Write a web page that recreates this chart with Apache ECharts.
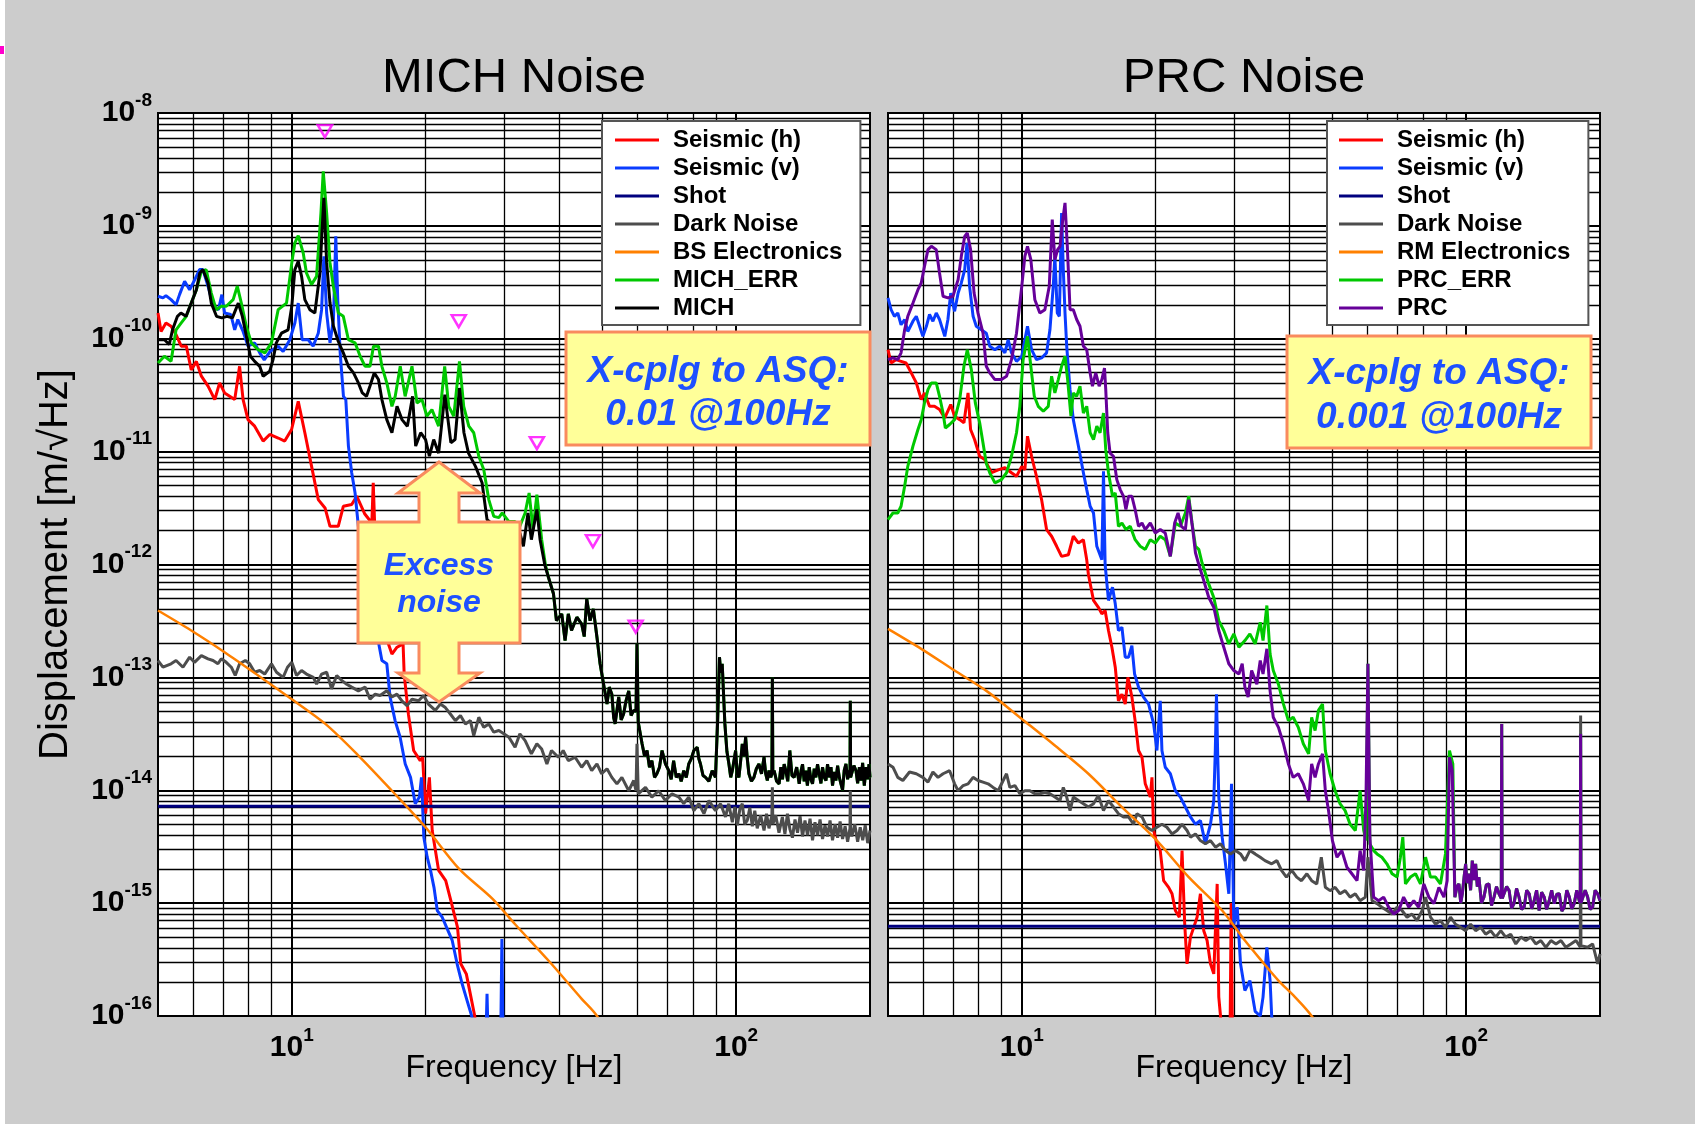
<!DOCTYPE html>
<html><head><meta charset="utf-8">
<script src="https://cdn.jsdelivr.net/npm/echarts@6/dist/echarts.min.js"></script>
<style>html,body{margin:0;padding:0;background:#cccccc;}#c{width:1695px;height:1124px;}</style>
</head><body><div id="c"></div>
<script>
// ---------- DATA (frequency [Hz], displacement [m/sqrt(Hz)]) ----------
const xTicks = [10, 100];
const michSeisH = [[5.0,1.69e-10],[5.08,1.16e-10],[5.21,1.38e-10],[5.35,1.29e-10],[5.49,1.09e-10],[5.64,8.6e-11],[5.79,8.6e-11],[5.94,5.3e-11],[6.10,6.3e-11],[6.26,4.66e-11],[6.48,3.8e-11],[6.71,2.89e-11],[6.88,4.06e-11],[7.06,3.31e-11],[7.44,2.89e-11],[7.63,5.7e-11],[7.77,2.89e-11],[7.97,1.92e-11],[8.25,1.68e-11],[8.62,1.24e-11],[8.92,1.42e-11],[9.32,1.32e-11],[9.64,1.24e-11],[9.99,1.57e-11],[10.34,2.79e-11],[10.7,1.47e-11],[11.08,7.4e-12],[11.47,3.76e-12],[11.88,3.17e-12],[12.19,2.18e-12],[12.72,2.18e-12],[13.06,3.28e-12],[13.64,3.4e-12],[14.0,4.03e-12],[14.6,2.8e-12],[15.14,2.33e-12],[15.25,5.3e-12],[15.36,2.33e-12],[15.9,8e-13],[16.5,1.98e-13],[16.8,1.61e-13],[17.25,1.85e-13],[17.8,1.98e-13],[17.9,1.07e-13],[18.3,4.7e-14],[18.8,2.25e-14],[19.45,1.83e-14],[19.7,1.96e-14],[20.0,6.2e-15],[20.4,1.3e-14],[20.7,4.4e-15],[21.4,1.95e-15],[22.2,1.58e-15],[22.8,1.05e-15],[23.6,6.1e-16],[24.0,2.9e-16],[24.7,2.36e-16],[25.3,1.47e-16],[25.8,1.0e-16],[26.3,5e-17]];
const michSeisV = [[5.0,2.38e-10],[5.13,2.3e-10],[5.21,2.41e-10],[5.35,2.22e-10],[5.49,2.0e-10],[5.59,2.46e-10],[5.74,3.23e-10],[5.89,2.72e-10],[6.05,3.34e-10],[6.2,4.1e-10],[6.31,4.1e-10],[6.48,2.92e-10],[6.66,1.94e-10],[6.84,1.81e-10],[6.96,2.46e-10],[7.06,1.69e-10],[7.29,1.64e-10],[7.44,1.2e-10],[7.56,1.48e-10],[7.77,1.16e-10],[7.97,8.6e-11],[8.25,9.2e-11],[8.47,7.5e-11],[8.67,6.5e-11],[8.93,7.7e-11],[9.32,8.6e-11],[9.56,7.7e-11],[9.9,9.8e-11],[10.16,1.38e-10],[10.34,2.07e-10],[10.55,9.8e-11],[10.89,9.8e-11],[11.17,8.6e-11],[11.47,1.12e-10],[11.67,1.81e-10],[11.81,5.37e-10],[11.98,1.69e-10],[12.19,9.2e-11],[12.41,1.48e-10],[12.56,8.1e-10],[12.69,2.22e-10],[12.85,7.5e-11],[13.07,3.09e-11],[13.23,2.89e-11],[13.41,1.12e-11],[13.64,6.5e-12],[13.88,4.3e-12],[14.12,2.18e-12],[14.9,7.4e-13],[15.67,2.05e-13],[15.95,1.41e-13],[16.36,1.32e-13],[16.64,6.7e-14],[17.08,4.14e-14],[17.53,2.95e-14],[18.0,1.71e-14],[18.5,1.3e-14],[18.96,7.6e-15],[19.37,8.7e-15],[19.58,1.3e-14],[19.82,3.84e-15],[20.17,2.55e-15],[20.52,1.95e-15],[20.89,1.38e-15],[21.25,8.6e-16],[21.8,7.5e-16],[22.3,6.1e-16],[22.96,4.67e-16],[23.55,2.9e-16],[24.17,1.93e-16],[24.8,1.37e-16],[25.4,1.0e-16],[26.0,5e-17],[27.3,5e-17],[27.5,1.57e-16],[27.7,5e-17],[29.5,5e-17],[29.7,4.8e-16],[29.9,5e-17]];
const michShot = [[5,7.2e-15],[200,7.2e-15]];
const michDark = [[5.0,1.41e-13],[5.13,1.23e-13],[5.35,1.32e-13],[5.49,1.41e-13],[5.69,1.23e-13],[5.89,1.51e-13],[6.04,1.36e-13],[6.26,1.56e-13],[6.48,1.46e-13],[6.65,1.41e-13],[6.82,1.32e-13],[6.94,1.46e-13],[7.12,1.36e-13],[7.31,1.23e-13],[7.46,1.04e-13],[7.63,1.32e-13],[7.86,1.41e-13],[8.04,1.32e-13],[8.25,1.11e-13],[8.47,1.15e-13],[8.69,1.07e-13],[9.0,1.32e-13],[9.24,1.11e-13],[9.56,1.0e-13],[9.78,1.23e-13],[10.0,1.36e-13],[10.25,1.04e-13],[10.52,1.15e-13],[10.79,1.07e-13],[11.18,1.0e-13],[11.37,8.7e-14],[11.67,1.07e-13],[11.98,1.11e-13],[12.29,7.9e-14],[12.62,1.04e-13],[12.95,9.4e-14],[13.29,8.7e-14],[13.64,8.2e-14],[14.12,7.6e-14],[14.62,8.2e-14],[15.0,6.4e-14],[15.4,7.1e-14],[15.8,6.9e-14],[16.36,7.6e-14],[16.8,6.7e-14],[17.24,7.1e-14],[17.69,6.2e-14],[18.16,5.6e-14],[18.64,6.4e-14],[19.29,6.2e-14],[19.8,6.9e-14],[20.3,5.8e-14],[21.03,5.1e-14],[21.59,5.8e-14],[22.16,5.4e-14],[22.74,4.74e-14],[23.34,4.14e-14],[23.96,4.59e-14],[24.59,3.87e-14],[25.23,4.14e-14],[25.67,3.05e-14],[26.35,4.43e-14],[27.04,3.61e-14],[27.75,3.87e-14],[28.48,3.27e-14],[29.23,3.38e-14],[30.0,3.16e-14],[30.8,2.95e-14],[31.8,2.4e-14],[32.6,3.16e-14],[33.5,2.75e-14],[34.6,2.1e-14],[35.6,2.58e-14],[36.5,2.32e-14],[37.5,1.71e-14],[38.4,2.25e-14],[39.8,1.96e-14],[40.8,2.25e-14],[41.9,1.83e-14],[43.4,1.96e-14],[44.9,1.6e-14],[46.1,1.83e-14],[47.3,1.49e-14],[48.6,1.71e-14],[49.8,1.4e-14],[51.2,1.55e-14],[52.5,1.3e-14],[53.9,1.14e-14],[55.3,1.3e-14],[57.3,9.9e-15],[58.8,1.22e-14],[59.5,9.9e-15],[59.8,2.58e-14],[60.2,9.3e-15],[62.5,1.06e-14],[64.6,8.7e-15],[66.9,9.9e-15],[69.3,8.1e-15],[71.7,9.3e-15],[74.3,8.7e-15],[76.2,7.6e-15],[78.2,8.7e-15],[80.3,6.6e-15],[82.4,7.6e-15],[84.6,6.2e-15],[86.8,8.1e-15],[89.8,6.6e-15],[92.2,7.6e-15],[94.6,5.8e-15],[96.2,7.6e-15],[98.0,5.2e-15],[99.3,7.1e-15],[100.6,4.9e-15],[101.9,6.8e-15],[103.2,7.6e-15],[104.5,5.0e-15],[105.9,5.4e-15],[107.3,7.0e-15],[108.7,4.8e-15],[110.1,6.6e-15],[111.5,4.6e-15],[113.5,6.0e-15],[115.5,4.4e-15],[117.0,6.2e-15],[118.5,4.6e-15],[120.3,6e-15],[120.6,1.06e-14],[120.9,5e-15],[122.7,6.0e-15],[124.8,4.2e-15],[127.0,5.8e-15],[128.7,4.1e-15],[130.4,6.2e-15],[132.1,4.5e-15],[133.8,3.8e-15],[135.6,5.5e-15],[137.4,4.2e-15],[139.2,5.9e-15],[141.0,3.9e-15],[142.8,5.4e-15],[144.7,4.0e-15],[146.6,5.6e-15],[148.5,3.6e-15],[150.4,5.2e-15],[152.4,4.0e-15],[154.4,5.5e-15],[156.4,3.7e-15],[158.4,4.9e-15],[160.5,3.9e-15],[162.6,5.4e-15],[164.7,3.6e-15],[166.9,5.0e-15],[169.1,3.8e-15],[171.3,5.3e-15],[173.5,3.7e-15],[175.8,4.8e-15],[178.1,3.5e-15],[180.3,4.6e-15],[180.6,9.9e-15],[180.9,4.2e-15],[182.0,3.9e-15],[184.8,5.0e-15],[187.6,3.5e-15],[190.1,4.7e-15],[192.6,3.6e-15],[195.1,4.9e-15],[197.6,3.4e-15],[200,4.4e-15]];
const bsElec = [[5.0,3.91e-13],[5.94,2.6e-13],[7.06,1.67e-13],[8.4,1.04e-13],[10.0,6.4e-14],[11.9,3.87e-14],[14.12,2.03e-14],[16.8,9.9e-15],[20.0,4.7e-15],[23.8,2.01e-15],[28.3,1.09e-15],[31.8,6.5e-16],[37.8,3.1e-16],[44.9,1.42e-16],[48.6,1.0e-16],[55,4e-17]];
const michErrLow = [[5.0,6.1e-11],[5.17,7.0e-11],[5.35,6.31e-11],[5.49,1.2e-10],[5.64,1.38e-10],[5.79,1.58e-10],[5.94,2.07e-10],[6.10,2.72e-10],[6.26,3.96e-10],[6.42,4.09e-10],[6.59,2.54e-10],[6.76,1.81e-10],[6.94,1.94e-10],[7.12,1.94e-10],[7.38,2.22e-10],[7.54,2.92e-10],[7.70,2.07e-10],[7.90,1.29e-10],[8.11,9.2e-11],[8.40,8.0e-11],[8.70,7.5e-11],[9.0,9.2e-11],[9.32,1.81e-10],[9.73,2.07e-10],[10.0,4.7e-10],[10.16,7.06e-10],[10.34,8.2e-10],[10.61,5.75e-10],[10.79,3.83e-10],[11.08,3.02e-10],[11.37,3.57e-10],[11.63,1.3e-9],[11.77,3.04e-9],[11.98,1.3e-9],[12.19,4.7e-10],[12.40,2.92e-10],[12.73,1.69e-10],[13.06,1.58e-10],[13.41,9.8e-11],[13.88,9.2e-11],[14.25,7.0e-11],[14.62,5.7e-11],[15.0,5.7e-11],[15.27,8.6e-11],[15.67,8.6e-11],[15.95,5.7e-11],[16.36,4.06e-11],[16.80,2.52e-11],[17.09,3.09e-11],[17.54,5.7e-11],[17.99,3.09e-11],[18.64,5.7e-11],[19.13,2.7e-11],[19.63,2.89e-11],[20.14,2.06e-11],[20.67,2.36e-11],[21.40,1.68e-11],[22.08,5.7e-11],[22.55,2.52e-11],[23.15,2.06e-11],[23.84,6.31e-11],[24.37,2.52e-11],[25.02,1.68e-11],[25.67,1.47e-11],[26.35,9.1e-12],[27.04,6.9e-12],[27.75,3.76e-12],[28.48,2.67e-12],[29.23,2.6e-12],[29.75,2.86e-12],[30.80,2.4e-12],[31.77,2.4e-12],[32.6,2.18e-12],[33.5,2.86e-12],[34.2,4.3e-12],[34.9,2.04e-12],[35.6,4.16e-12],[36.5,1.66e-12],[37.2,1.0e-12]];
const michLow = [[5.0,9.8e-11],[5.17,9.8e-11],[5.30,8.9e-11],[5.39,1.2e-10],[5.53,1.58e-10],[5.63,1.69e-10],[5.78,1.58e-10],[5.94,2.07e-10],[6.10,2.72e-10],[6.21,3.83e-10],[6.31,4.1e-10],[6.48,3.12e-10],[6.59,2.07e-10],[6.77,1.58e-10],[6.96,1.53e-10],[7.15,1.58e-10],[7.35,1.53e-10],[7.58,2.07e-10],[7.74,1.58e-10],[7.88,1.12e-10],[8.07,7.0e-11],[8.25,6.3e-11],[8.47,5.7e-11],[8.62,4.66e-11],[8.92,5.15e-11],[9.07,6.5e-11],[9.23,9.2e-11],[9.48,1.12e-10],[9.81,1.2e-10],[10.0,1.94e-10],[10.16,4.1e-10],[10.34,4.85e-10],[10.52,3.57e-10],[10.70,2.22e-10],[10.98,1.81e-10],[11.27,1.69e-10],[11.57,3.83e-10],[11.67,7.55e-10],[11.81,1.77e-9],[11.98,4.7e-10],[12.19,2.07e-10],[12.41,1.29e-10],[12.72,9.5e-11],[13.06,7.5e-11],[13.41,5.7e-11],[13.77,4.98e-11],[14.12,4.06e-11],[14.41,3.31e-11],[14.73,3.09e-11],[14.99,3.8e-11],[15.33,4.98e-11],[15.67,4.35e-11],[15.95,2.89e-11],[16.36,1.92e-11],[16.8,1.47e-11],[17.25,2.52e-11],[17.7,1.92e-11],[18.2,1.68e-11],[18.7,3.09e-11],[19.0,1.12e-11],[19.5,1.47e-11],[20.0,1.28e-11],[20.4,9.1e-12],[20.86,1.28e-11],[21.4,9.7e-12],[22.1,3.2e-11],[22.8,1.2e-11],[23.3,1.28e-11],[23.84,3.66e-11],[24.4,1.47e-11],[24.98,9.7e-12],[25.9,7.4e-12],[26.8,5.3e-12],[27.5,2.5e-12],[29.0,2.1e-12],[30.5,1.8e-12],[31.8,1.7e-12],[32.6,1.91e-12],[33.2,1.45e-12],[34.0,2.86e-12],[34.6,1.66e-12],[35.6,3.07e-12],[36.2,1.66e-12],[37.1,9.9e-13]];
const michHigh = [[37.8,7.7e-13],[38.8,5.5e-13],[39.4,3.18e-13],[40.5,3.65e-13],[41.2,2.12e-13],[41.9,3.65e-13],[42.6,2.6e-13],[43.8,3.41e-13],[44.9,2.97e-13],[45.5,2.3e-13],[46.1,4.95e-13],[46.9,3.18e-13],[47.7,4.04e-13],[48.6,2.27e-13],[49.4,1.32e-13],[50.3,8.7e-14],[51.2,5.8e-14],[51.8,8.2e-14],[52.5,7.1e-14],[53.0,4.4e-14],[53.4,3.87e-14],[54.4,6.7e-14],[55.1,4.2e-14],[55.8,4.74e-14],[56.5,6.2e-14],[57.3,7.6e-14],[58.0,4.6e-14],[58.8,5.1e-14],[59.5,5e-14],[59.8,1.98e-13],[60.2,4e-14],[60.5,3.87e-14],[61.4,2.58e-14],[62.2,2.0e-14],[63.0,2.25e-14],[63.8,1.6e-14],[64.6,1.83e-14],[65.5,1.3e-14],[66.3,1.4e-14],[67.2,1.6e-14],[68.1,2.25e-14],[69.3,1.71e-14],[70.5,1.49e-14],[71.4,1.25e-14],[72.3,1.83e-14],[73.3,1.3e-14],[74.3,1.4e-14],[75.2,1.2e-14],[76.2,1.49e-14],[77.2,1.3e-14],[78.2,1.71e-14],[79.2,1.9e-14],[80.3,2.25e-14],[81.7,2.4e-14],[82.4,1.9e-14],[83.1,1.71e-14],[84.2,1.35e-14],[85.3,1.3e-14],[86.8,1.2e-14],[88.3,1.49e-14],[89.8,1.3e-14],[90.8,4.0e-14],[91.7,1.51e-13],[92.3,1.1e-13],[93.0,1.32e-13],[94.3,3.87e-14],[95.3,2.2e-14],[96.3,1.71e-14],[97.2,1.3e-14],[98.0,1.49e-14],[99.0,1.9e-14],[99.7,2.25e-14],[100.5,1.4e-14],[101.4,1.3e-14],[102.3,1.8e-14],[103.2,2.58e-14],[104.1,2.0e-14],[105.0,2.95e-14],[105.9,1.9e-14],[106.8,1.4e-14],[108.2,1.2e-14],[109.6,1.3e-14],[111.0,1.55e-14],[112.5,1.71e-14],[114.0,1.4e-14],[115.5,1.96e-14],[116.5,1.4e-14],[117.5,1.22e-14],[118.5,1.5e-14],[119.6,1.3e-14],[120.3,1.4e-14],[120.6,1.0e-13],[120.9,1.4e-14],[121.7,1.49e-14],[123.3,1.2e-14],[124.9,1.14e-14],[126.0,1.6e-14],[127.1,1.25e-14],[128.2,1.7e-14],[129.3,1.49e-14],[130.6,1.2e-14],[132.0,2.25e-14],[133.5,1.35e-14],[135.0,1.3e-14],[136.8,1.6e-14],[138.6,1.14e-14],[140.0,1.5e-14],[141.0,1.7e-14],[142.2,1.2e-14],[143.4,1.49e-14],[144.6,1.1e-14],[146.0,1.6e-14],[147.2,1.25e-14],[148.5,1.14e-14],[149.8,1.55e-14],[151.1,1.3e-14],[152.4,1.7e-14],[153.7,1.4e-14],[155.1,1.15e-14],[156.4,1.6e-14],[157.8,1.3e-14],[159.2,1.22e-14],[160.5,1.7e-14],[162.0,1.3e-14],[163.4,1.6e-14],[164.7,1.1e-14],[166.2,1.45e-14],[167.6,1.22e-14],[169.1,1.65e-14],[170.6,1.3e-14],[172.0,1.3e-14],[173.5,1.0e-14],[175.0,1.5e-14],[176.6,1.71e-14],[178.1,1.25e-14],[179.6,1.5e-14],[180.3,1.3e-14],[180.6,6.2e-14],[180.9,1.3e-14],[182.2,1.3e-14],[184.0,1.65e-14],[186.0,1.49e-14],[187.6,1.15e-14],[189.3,1.6e-14],[190.9,1.22e-14],[192.5,1.75e-14],[194.2,1.1e-14],[196.0,1.6e-14],[197.6,1.25e-14],[199,1.7e-14],[200,1.3e-14]];
const michMarks = [[11.87,6.9e-9],[23.75,1.43e-10],[35.6,1.19e-11],[47.6,1.61e-12],[59.4,2.82e-13]];

const prcSeisH = [[5.0,8.0e-11],[5.08,6.1e-11],[5.21,6.53e-11],[5.35,6.31e-11],[5.49,6.1e-11],[5.64,4.98e-11],[5.79,4.06e-11],[5.94,2.89e-11],[6.04,3.31e-11],[6.20,2.52e-11],[6.36,2.52e-11],[6.53,2.36e-11],[6.71,1.99e-11],[6.92,2.61e-11],[7.06,2.06e-11],[7.25,1.92e-11],[7.41,1.8e-11],[7.57,3.31e-11],[7.67,1.57e-11],[7.83,1.28e-11],[8.04,9.1e-12],[8.25,8.5e-12],[8.55,6.5e-12],[8.85,6.9e-12],[9.16,7.2e-12],[9.48,6.5e-12],[9.73,6.05e-12],[10.0,7.4e-12],[10.16,6.9e-12],[10.30,1.37e-11],[10.52,9.1e-12],[10.79,6.05e-12],[11.08,3.76e-12],[11.37,2.04e-12],[11.67,1.78e-12],[11.98,1.45e-12],[12.29,1.18e-12],[12.73,1.22e-12],[13.06,1.78e-12],[13.41,1.55e-12],[13.76,1.66e-12],[14.0,1.1e-12],[14.12,8.2e-13],[14.50,4.8e-13],[14.87,4.18e-13],[15.14,3.65e-13],[15.40,3.91e-13],[15.67,2.6e-13],[15.95,1.85e-13],[16.23,1.23e-13],[16.50,6.2e-14],[16.80,7.1e-14],[17.09,5.8e-14],[17.33,1.0e-13],[17.69,6.7e-14],[17.99,4.14e-14],[18.31,2.25e-14],[18.64,1.96e-14],[18.96,1.14e-14],[19.46,8.7e-15],[19.63,1.3e-14],[19.80,4.4e-15],[20.14,3.35e-15],[20.49,2.92e-15],[20.85,1.58e-15],[21.40,1.38e-15],[21.78,1.21e-15],[22.16,8.6e-16],[22.62,7.5e-16],[22.94,2.92e-15],[23.26,6.5e-16],[23.54,2.9e-16],[23.96,5.0e-16],[24.37,6.1e-16],[24.80,7.5e-16],[25.23,1.21e-15],[25.67,5.7e-16],[26.12,4.66e-16],[26.58,2.9e-16],[27.04,2.36e-16],[27.52,1.48e-15],[27.75,1.47e-16],[28.0,1.0e-16],[28.4,5e-17],[29.4,5e-17],[29.59,1.0e-15],[29.8,5e-17]];
const prcSeisV = [[5.0,2.3e-10],[5.08,1.81e-10],[5.17,1.58e-10],[5.26,1.69e-10],[5.35,1.33e-10],[5.45,1.48e-10],[5.54,1.16e-10],[5.69,1.43e-10],[5.79,1.58e-10],[5.89,1.29e-10],[5.99,1.05e-10],[6.10,1.29e-10],[6.20,1.64e-10],[6.31,1.43e-10],[6.42,1.69e-10],[6.53,1.48e-10],[6.71,1.05e-10],[6.82,1.48e-10],[6.92,2.54e-10],[7.06,1.75e-10],[7.19,2.54e-10],[7.31,3.12e-10],[7.44,4.09e-10],[7.53,7.06e-10],[7.63,2.92e-10],[7.77,1.58e-10],[7.90,1.29e-10],[8.11,1.2e-10],[8.32,1.12e-10],[8.47,8.6e-11],[8.70,8.0e-11],[8.92,8.6e-11],[9.16,7.5e-11],[9.32,9.8e-11],[9.48,7.5e-11],[9.73,6.31e-11],[10.0,7.0e-11],[10.16,9.8e-11],[10.30,1.29e-10],[10.52,8.0e-11],[10.79,6.53e-11],[11.08,6.76e-11],[11.37,7.5e-11],[11.57,1.2e-10],[11.77,2.92e-10],[11.87,5.37e-10],[12.02,1.69e-10],[12.15,1.58e-10],[12.29,1.3e-9],[12.40,4.09e-10],[12.51,1.69e-10],[12.62,8.6e-11],[12.84,3.54e-11],[13.06,1.92e-11],[13.41,1.12e-11],[13.76,6.5e-12],[14.0,4.61e-12],[14.25,3.28e-12],[14.50,2.86e-12],[14.75,1.45e-12],[15.14,1.1e-12],[15.27,6.7e-12],[15.40,1.0e-12],[15.67,4.8e-13],[16.0,6.3e-13],[16.23,4.48e-13],[16.50,2.6e-13],[16.80,2.78e-13],[17.09,1.51e-13],[17.39,1.51e-13],[17.69,1.91e-13],[17.94,1.07e-13],[18.31,8.2e-14],[18.79,6.7e-14],[19.29,5.8e-14],[19.80,3.87e-14],[20.14,2.25e-14],[20.49,6.2e-14],[20.67,2.25e-14],[21.03,1.6e-14],[21.59,1.4e-14],[22.16,9.9e-15],[22.74,8.7e-15],[23.34,7.1e-15],[23.96,5.8e-15],[24.59,5.0e-15],[25.23,5.4e-15],[25.89,3.35e-15],[26.58,5.0e-15],[27.04,8.1e-15],[27.25,2.2e-14],[27.42,7.1e-14],[27.6,2.0e-14],[27.75,8.7e-15],[28.24,3.84e-15],[28.73,2.23e-15],[29.23,1.21e-15],[29.64,1.14e-14],[30.0,6.5e-16],[30.53,9.2e-16],[31.06,2.9e-16],[31.77,1.68e-16],[32.6,2.06e-16],[33.5,1.1e-16],[34.4,1.0e-16],[34.9,1.47e-16],[35.6,4.06e-16],[36.2,2.06e-16],[36.5,1.0e-16],[37.5,5e-17]];
const prcShot = [[5,6.25e-16],[200,6.25e-16]];
const prcDark = [[5.0,1.71e-14],[5.13,1.6e-14],[5.26,1.3e-14],[5.40,1.22e-14],[5.59,1.45e-14],[5.79,1.4e-14],[5.99,1.3e-14],[6.15,1.18e-14],[6.31,1.45e-14],[6.48,1.3e-14],[6.65,1.4e-14],[6.88,1.49e-14],[7.06,1.14e-14],[7.19,9.9e-15],[7.38,1.1e-14],[7.57,1.14e-14],[7.77,1.3e-14],[7.97,1.22e-14],[8.18,1.18e-14],[8.40,1.14e-14],[8.62,1.06e-14],[8.85,9.9e-15],[9.08,1.22e-14],[9.24,1.4e-14],[9.40,1.06e-14],[9.65,1.1e-14],[9.90,9.3e-15],[10.16,9.9e-15],[10.43,9.9e-15],[10.70,9.3e-15],[10.98,9.3e-15],[11.27,9.6e-15],[11.57,9.3e-15],[11.87,8.7e-15],[12.19,8.1e-15],[12.40,1.06e-14],[12.62,8.7e-15],[12.84,6.6e-15],[13.06,8.7e-15],[13.41,8.1e-15],[13.76,7.6e-15],[14.12,7.1e-15],[14.50,7.6e-15],[14.87,9.0e-15],[15.27,6.6e-15],[15.67,8.1e-15],[16.08,7.1e-15],[16.50,6.2e-15],[16.94,5.8e-15],[17.39,5.8e-15],[17.84,5.0e-15],[18.16,6.2e-15],[18.64,5.8e-15],[19.13,4.7e-15],[19.63,4.4e-15],[20.14,4.7e-15],[20.67,5.0e-15],[21.21,4.7e-15],[21.78,4.1e-15],[22.35,4.4e-15],[22.94,5.0e-15],[23.54,4.4e-15],[23.96,3.84e-15],[24.59,4.1e-15],[25.23,3.58e-15],[25.89,3.35e-15],[26.58,3.58e-15],[27.28,3.13e-15],[28.0,3.35e-15],[28.73,2.92e-15],[29.49,2.73e-15],[30.27,2.92e-15],[31.06,2.73e-15],[31.77,2.38e-15],[32.6,2.92e-15],[33.5,2.73e-15],[34.4,2.55e-15],[35.25,2.38e-15],[36.5,2.23e-15],[37.5,2.38e-15],[38.4,1.95e-15],[39.4,1.7e-15],[40.5,1.95e-15],[41.55,1.7e-15],[42.6,1.58e-15],[43.8,1.82e-15],[44.9,1.58e-15],[46.1,1.48e-15],[47.2,2.55e-15],[48.2,1.38e-15],[49.4,1.29e-15],[50.7,1.38e-15],[52.0,1.21e-15],[53.4,1.29e-15],[54.8,1.13e-15],[56.3,1.21e-15],[57.7,1.05e-15],[59.3,1.13e-15],[60.1,2.55e-15],[61.4,1.05e-15],[63.0,9.9e-16],[64.6,9.2e-16],[66.3,8.6e-16],[68.1,8.0e-16],[69.9,9.2e-16],[71.7,8.6e-16],[73.6,7.5e-16],[75.5,8.0e-16],[77.5,7.0e-16],[79.6,8.6e-16],[81.0,1.13e-15],[83.1,7.5e-16],[85.3,6.5e-16],[87.5,7.0e-16],[89.8,6.1e-16],[92.2,7.5e-16],[94.6,6.5e-16],[97.1,6.1e-16],[99.7,5.7e-16],[102.3,6.5e-16],[105.0,5.7e-16],[107.8,6.1e-16],[110.6,5.3e-16],[113.5,5.7e-16],[116.5,5.0e-16],[119.6,5.7e-16],[122.7,5.0e-16],[125.9,5.3e-16],[129.3,4.35e-16],[132.7,5.0e-16],[136.2,4.66e-16],[139.8,5.0e-16],[143.4,4.35e-16],[147.2,4.66e-16],[151.1,4.06e-16],[155.1,4.66e-16],[159.2,4.35e-16],[163.4,4.66e-16],[167.6,4.06e-16],[172.0,4.35e-16],[176.6,4.66e-16],[180.6,4.06e-16],[180.9,4.59e-14],[181.2,4.2e-16],[182.8,4.35e-16],[187.6,4.06e-16],[192.5,4.35e-16],[197.6,2.9e-16],[200,3.55e-16]];
const rmElec = [[5.0,2.69e-13],[5.94,1.79e-13],[7.06,1.15e-13],[8.40,7.4e-14],[10.0,4.28e-14],[11.87,2.49e-14],[14.12,1.4e-14],[16.80,7.1e-15],[19.97,3.71e-15],[23.75,1.7e-15],[28.24,8.6e-16],[31.77,4.66e-16],[34.6,3.1e-16],[37.8,2.06e-16],[41.2,1.47e-16],[44.9,1.0e-16],[50,5e-17]];
const prcErrLow = [[5.0,2.5e-12],[5.13,2.86e-12],[5.26,2.86e-12],[5.35,3.28e-12],[5.45,4.93e-12],[5.54,7.4e-12],[5.69,1.12e-11],[5.84,1.57e-11],[5.94,1.92e-11],[6.04,2.7e-11],[6.15,3.54e-11],[6.26,4.06e-11],[6.42,4.06e-11],[6.53,3.09e-11],[6.65,2.2e-11],[6.73,1.62e-11],[6.88,1.74e-11],[7.06,1.92e-11],[7.25,2.89e-11],[7.41,5.7e-11],[7.54,8.0e-11],[7.70,5.33e-11],[7.86,2.7e-11],[8.04,1.8e-11],[8.18,1.19e-11],[8.32,7.9e-12],[8.47,6.5e-12],[8.70,5.28e-12],[9.0,5.65e-12],[9.24,6.5e-12],[9.48,9.1e-12],[9.73,1.47e-11],[9.90,2.52e-11],[10.07,6.53e-11],[10.30,1.05e-10],[10.48,5.7e-11],[10.67,3.09e-11],[10.89,2.52e-11],[11.18,2.28e-11],[11.47,2.52e-11],[11.67,4.65e-11],[11.87,3.31e-11],[12.08,4.35e-11],[12.29,5.7e-11],[12.51,7.0e-11],[12.68,4.35e-11],[12.90,2.06e-11],[13.06,3.31e-11],[13.29,3.09e-11],[13.52,3.8e-11],[13.76,2.2e-11],[14.0,2.52e-11],[14.25,1.47e-11],[14.50,1.28e-11],[14.75,1.68e-11],[15.0,1.47e-11],[15.27,2.2e-11],[15.45,1.04e-11],[15.67,6.5e-12],[16.0,4.02e-12],[16.23,4.3e-12],[16.50,2.18e-12],[16.80,2.33e-12],[17.15,2.04e-12],[17.54,2.18e-12],[17.99,1.66e-12],[18.47,1.45e-12],[18.96,1.36e-12],[19.46,1.66e-12],[19.97,1.55e-12],[20.49,1.78e-12],[21.03,1.66e-12],[21.59,1.18e-12],[22.16,2.33e-12],[22.74,2.18e-12],[23.34,2.86e-12],[23.75,4.02e-12],[24.16,2.33e-12],[24.59,1.45e-12],[25.02,1.36e-12],[25.45,1.03e-12],[26.35,6.7e-13],[27.04,5.1e-13],[27.75,3.18e-13],[28.48,2.6e-13],[29.23,1.98e-13],[30.0,2.43e-13],[30.80,1.85e-13],[31.77,2.12e-13],[32.6,2.43e-13],[33.5,1.98e-13],[34.4,3.08e-13],[34.9,2.12e-13],[35.6,4.33e-13],[36.2,1.61e-13],[36.8,1.15e-13],[37.8,8.7e-14],[38.8,5.8e-14],[39.8,4.14e-14],[40.8,4.43e-14],[41.9,3.61e-14],[43.0,2.58e-14],[44.2,2.1e-14],[44.9,4.43e-14],[45.7,3.38e-14],[46.5,5.1e-14],[47.5,5.8e-14],[48.2,2.25e-14],[49.4,1.4e-14],[50.7,9.9e-15],[52.0,7.6e-15],[53.4,6.6e-15],[54.8,5.0e-15],[56.3,4.4e-15],[57.7,9.9e-15],[58.8,4.4e-15],[59.5,3.58e-15],[60.1,1.32e-13],[60.7,3.35e-15],[61.9,2.92e-15],[63.0,2.73e-15],[64.6,2.55e-15],[66.3,2.23e-15],[68.1,1.82e-15],[69.9,1.7e-15],[71.1,2.55e-15],[72.0,3.84e-15],[73.0,1.48e-15],[74.9,1.7e-15],[76.9,1.82e-15],[78.9,1.48e-15],[81.0,2.55e-15],[83.1,1.7e-15],[85.3,1.7e-15],[87.5,1.48e-15],[89.8,2.73e-15],[91.7,2.25e-14],[93.3,1.71e-14]];
const prcLow = [[5.0,6.53e-11],[5.13,6.76e-11],[5.26,6.53e-11],[5.35,7.5e-11],[5.45,1.2e-10],[5.54,1.58e-10],[5.69,2.07e-10],[5.84,2.72e-10],[5.94,3.12e-10],[6.04,4.38e-10],[6.15,6.16e-10],[6.26,6.59e-10],[6.42,6.16e-10],[6.53,3.83e-10],[6.65,2.38e-10],[6.82,2.3e-10],[7.0,2.38e-10],[7.19,3.34e-10],[7.31,5.37e-10],[7.44,8.08e-10],[7.54,8.65e-10],[7.67,6.16e-10],[7.81,2.54e-10],[7.97,1.69e-10],[8.18,1.12e-10],[8.32,5.7e-11],[8.47,4.98e-11],[8.70,4.35e-11],[9.0,4.35e-11],[9.24,4.65e-11],[9.48,6.53e-11],[9.73,1.12e-10],[10.0,2.92e-10],[10.16,5.37e-10],[10.30,6.59e-10],[10.48,5.02e-10],[10.70,2.22e-10],[10.98,1.69e-10],[11.27,1.81e-10],[11.53,2.92e-10],[11.71,1.135e-9],[11.87,5.02e-10],[12.04,6.16e-10],[12.19,6.59e-10],[12.34,1.06e-9],[12.51,1.6e-9],[12.66,6.59e-10],[12.84,1.81e-10],[13.06,1.81e-10],[13.29,1.48e-10],[13.52,1.29e-10],[13.76,8.6e-11],[14.0,8.0e-11],[14.25,4.98e-11],[14.42,3.8e-11],[14.67,4.98e-11],[14.93,3.8e-11],[15.14,4.35e-11],[15.35,5.5e-11],[15.45,3.54e-11],[15.61,1.47e-11],[15.80,9.7e-12],[16.08,9.1e-12],[16.36,5.65e-12],[16.65,4.61e-12],[16.94,4.02e-12],[17.15,3.07e-12],[17.39,4.02e-12],[17.69,4.02e-12],[17.99,3.07e-12],[18.31,2.18e-12],[18.64,2.33e-12],[18.96,2.04e-12],[19.46,2.33e-12],[19.97,1.9e-12],[20.49,2.04e-12],[21.03,1.9e-12],[21.59,1.18e-12],[22.08,2.33e-12],[22.47,2.86e-12],[22.86,2.18e-12],[23.34,2.04e-12],[23.75,3.76e-12],[24.25,2.04e-12],[24.59,1.27e-12],[25.02,1.0e-12],[25.67,7.2e-13],[26.35,5.1e-13],[27.04,4.18e-13],[27.75,2.6e-13],[28.48,1.85e-13],[29.23,1.32e-13],[30.0,1.15e-13],[30.80,1.07e-13],[31.33,1.32e-13],[31.77,8.2e-14],[32.3,6.7e-14],[32.9,1.15e-13],[33.8,8.7e-14],[34.4,1.41e-13],[34.9,1.07e-13],[35.6,1.79e-13],[36.2,7.6e-14],[36.8,4.43e-14],[37.8,3.61e-14],[38.8,2.58e-14],[39.8,1.71e-14],[40.8,1.3e-14],[41.9,1.4e-14],[43.0,1.14e-14],[44.2,8.1e-15],[44.9,1.71e-14],[45.7,1.3e-14],[46.5,1.71e-14],[47.5,2.1e-14],[48.2,9.9e-15],[49.0,6.6e-15],[50.0,3.58e-15],[51.2,2.55e-15],[52.5,2.92e-15],[53.9,2.08e-15],[55.3,1.82e-15],[56.8,1.58e-15],[57.7,2.92e-15],[58.8,1.95e-15],[59.5,8.7e-15],[60.1,1.32e-13],[60.7,3.84e-15],[61.9,1.13e-15],[63.5,1.05e-15],[65.2,1.13e-15],[66.9,9.2e-16],[68.7,8.0e-16],[70.5,8.6e-16],[72.3,1.13e-15],[74.3,9.2e-16],[76.2,1.05e-15],[78.2,9.2e-16],[80.3,1.48e-15],[82.4,1.13e-15],[84.6,9.9e-16],[86.8,1.38e-15],[89.1,1.13e-15],[90.6,1.58e-15],[91.7,1.96e-14],[93.0,1.49e-14]];
const prcHigh = [[94.3,1.13e-15],[95.3,1.4e-15],[96.3,1.48e-15],[97.2,1.0e-15],[98.0,1.21e-15],[98.9,1.7e-15],[99.7,2.23e-15],[100.5,1.5e-15],[101.4,1.82e-15],[102.3,1.3e-15],[103.2,2.38e-15],[104.1,1.6e-15],[105.0,2.23e-15],[105.9,1.4e-15],[106.8,1.7e-15],[108.2,1.0e-15],[109.6,1.13e-15],[111.0,1.45e-15],[112.5,1.48e-15],[114.0,9.5e-16],[115.5,1.13e-15],[117.0,1.4e-15],[118.5,1.21e-15],[119.9,1.1e-15],[120.2,3.87e-14],[120.5,1.1e-15],[121.7,1.13e-15],[123.3,1.4e-15],[124.9,1.29e-15],[126.5,9.0e-16],[128.1,9.9e-16],[129.8,1.35e-15],[131.5,1.13e-15],[133.2,8.8e-16],[135.0,9.2e-16],[136.8,1.3e-15],[138.6,1.21e-15],[140.4,8.9e-16],[142.2,1.05e-15],[144.0,1.3e-15],[145.9,8.6e-16],[147.8,1.25e-15],[149.8,1.13e-15],[151.7,8.8e-16],[153.7,1.05e-15],[155.7,1.3e-15],[157.8,9.9e-16],[159.9,1.2e-15],[162.0,1.21e-15],[164.1,8.5e-16],[166.2,9.2e-16],[168.4,1.3e-15],[170.6,1.13e-15],[172.8,8.9e-16],[175.0,9.9e-16],[177.3,1.3e-15],[179.6,1.05e-15],[180.6,1.0e-15],[180.9,3.16e-14],[181.2,1.0e-15],[182.8,9.9e-16],[185.2,1.3e-15],[187.6,1.13e-15],[190.0,8.8e-16],[192.5,9.2e-16],[195.0,1.3e-15],[197.6,1.21e-15],[200,1.05e-15]];

const leftNames = ['Seismic (h)','Seismic (v)','Shot','Dark Noise','BS Electronics','MICH_ERR','MICH'];
const rightNames = ['Seismic (h)','Seismic (v)','Shot','Dark Noise','RM Electronics','PRC_ERR','PRC'];

// ---------- CHART ----------
const FONT = "'Liberation Sans', Arial, sans-serif";
const YS = 1e16; // axis works in units of 1e-16 m/sqrt(Hz)
const C = {red:'#ff0000', blue:'#0a3cff', navy:'#00007f', grey:'#4d4d4d', orange:'#ff8000', green:'#00c800', black:'#000000', purple:'#660099'};
function sc(a){ return a.map(p => [p[0], p[1]*YS]); }
function ln(name, arr, color, gi, w, extra){
  return Object.assign({type:'line', name:name, xAxisIndex:gi, yAxisIndex:gi, data:sc(arr),
    symbol:'none', showSymbol:false, silent:true, clip:true, animation:false,
    lineStyle:{color:color, width:w}, itemStyle:{color:color}}, extra||{});
}
const RICH = {
  b:{fontFamily:FONT, fontWeight:'bold', fontSize:30, lineHeight:44, color:'#000'},
  s:{fontFamily:FONT, fontWeight:'bold', fontSize:19, lineHeight:19, verticalAlign:'top', color:'#000'}
};
function isPow(e){ return Math.abs(e - Math.round(e)) < 1e-6; }
function xAx(gi){
  return {type:'log', logBase:10, gridIndex:gi, min:5, max:200,
    axisLine:{show:true, lineStyle:{color:'#000', width:2}}, axisTick:{show:false},
    minorTick:{show:false, splitNumber:9},
    splitLine:{show:true, lineStyle:{color:'#000', width:2}},
    minorSplitLine:{show:true, lineStyle:{color:'#000', width:1.3}},
    axisLabel:{margin:10, rich:RICH, formatter:function(v){ const e=Math.log10(v); return (isPow(e) && xTicks.indexOf(Math.round(Math.pow(10,Math.round(e))))>=0) ? '{b|10}{s|'+Math.round(e)+'}' : ''; }},
    name:'Frequency [Hz]', nameLocation:'middle', nameGap:36, nameMoveOverlap:false,
    nameTextStyle:{fontFamily:FONT, fontSize:32, color:'#000'}};
}
function yAx(gi, labels){
  const o = {type:'log', logBase:10, gridIndex:gi, min:1e-16*YS, max:1e-8*YS,
    axisLine:{show:true, lineStyle:{color:'#000', width:2}}, axisTick:{show:false},
    minorTick:{show:false, splitNumber:9},
    splitLine:{show:true, lineStyle:{color:'#000', width:2}},
    minorSplitLine:{show:true, lineStyle:{color:'#000', width:1.3}},
    axisLabel:{show:labels, margin:6, rich:RICH, formatter:function(v){ const e=Math.log10(v/YS); return isPow(e) ? '{b|10}{s|'+Math.round(e)+'}' : ''; }}};
  if (labels){ o.name='Displacement [m/\u221AHz]'; o.nameLocation='middle'; o.nameGap=82; o.nameRotate=90;
    o.nameTextStyle={fontFamily:FONT, fontSize:40, color:'#000'}; }
  return o;
}
function legend(left, names, padL){
  return {show:true, orient:'vertical', left:left, top:121, selectedMode:false, data:names,
    icon:'rect', itemWidth:44, itemHeight:3, itemGap:4, padding:[7,18,5,padL],
    backgroundColor:'#ffffff', borderColor:'#555555', borderWidth:2,
    textStyle:{fontFamily:FONT, fontWeight:'bold', fontSize:24, lineHeight:24, color:'#000', padding:[0,0,0,9]}};
}
const BOXFILL = '#ffff99', BOXLINE = '#f98b5e', BLUE = '#1e50ff';
const arrowPts = [[439,462],[480,493],[459,493],[459,522],[520,522],[520,643],[459,643],[459,673],[480,673],[439,702],[398,673],[419,673],[419,643],[358,643],[358,522],[419,522],[419,493],[398,493]];

const option = {
  backgroundColor:'#cccccc', animation:false,
  title:[
    {text:'MICH Noise', left:514, top:54, textAlign:'center', padding:0, textStyle:{fontFamily:FONT, fontSize:49, fontWeight:'normal', color:'#000'}},
    {text:'PRC Noise', left:1244, top:54, textAlign:'center', padding:0, textStyle:{fontFamily:FONT, fontSize:49, fontWeight:'normal', color:'#000'}}
  ],
  grid:[
    {left:158, top:113, width:712, height:903, show:true, backgroundColor:'#ffffff', borderColor:'#000', borderWidth:2},
    {left:888, top:113, width:712, height:903, show:true, backgroundColor:'#ffffff', borderColor:'#000', borderWidth:2}
  ],
  xAxis:[xAx(0), xAx(1)],
  yAxis:[yAx(0,true), yAx(1,false)],
  legend:[legend(602, leftNames, 13), legend(1327, rightNames, 12)],
  series:[
    ln('Seismic (h)', michSeisH, C.red, 0, 3),
    ln('Seismic (v)', michSeisV, C.blue, 0, 3),
    ln('Shot', michShot, C.navy, 0, 3),
    ln('Dark Noise', michDark, C.grey, 0, 3),
    ln('BS Electronics', bsElec, C.orange, 0, 2.5, {smooth:0.3}),
    ln('MICH_ERR', michErrLow.concat(michHigh), C.green, 0, 3),
    ln('MICH', michLow.concat(michHigh), C.black, 0, 3),
    {type:'scatter', name:'harmonics', xAxisIndex:0, yAxisIndex:0, data:sc(michMarks), silent:true,
     symbol:'triangle', symbolRotate:180, symbolSize:[14,12],
     itemStyle:{color:'rgba(255,255,255,0)', borderColor:'#ff00ff', borderWidth:2.5}},
    ln('Seismic (h)', prcSeisH, C.red, 1, 3),
    ln('Seismic (v)', prcSeisV, C.blue, 1, 3),
    ln('Shot', prcShot, C.navy, 1, 3),
    ln('Dark Noise', prcDark, C.grey, 1, 3),
    ln('RM Electronics', rmElec, C.orange, 1, 2.5, {smooth:0.3}),
    ln('PRC_ERR', prcErrLow.concat(prcHigh), C.green, 1, 3),
    ln('PRC', prcLow.concat(prcHigh), C.purple, 1, 3)
  ],
  graphic:[
    {type:'rect', z:100, shape:{x:0, y:0, width:5, height:1124}, style:{fill:'#ffffff'}},
    {type:'rect', z:101, shape:{x:0, y:46, width:4, height:8}, style:{fill:'#ff00cc'}},
    {type:'rect', z:100, shape:{x:566, y:332, width:304, height:113}, style:{fill:BOXFILL, stroke:BOXLINE, lineWidth:3}},
    {type:'text', z:101, style:{text:'X-cplg to ASQ:\n0.01 @100Hz', x:718, y:393, align:'center', verticalAlign:'middle', lineHeight:43,
      font:'italic bold 37px '+FONT, fill:BLUE}},
    {type:'rect', z:100, shape:{x:1287, y:336, width:304, height:112}, style:{fill:BOXFILL, stroke:BOXLINE, lineWidth:3}},
    {type:'text', z:101, style:{text:'X-cplg to ASQ:\n0.001 @100Hz', x:1439, y:396, align:'center', verticalAlign:'middle', lineHeight:44,
      font:'italic bold 37px '+FONT, fill:BLUE}},
    {type:'polygon', z:100, shape:{points:arrowPts}, style:{fill:BOXFILL, stroke:BOXLINE, lineWidth:3}},
    {type:'text', z:101, style:{text:'Excess\nnoise', x:439, y:585, align:'center', verticalAlign:'middle', lineHeight:37,
      font:'italic bold 32px '+FONT, fill:BLUE}}
  ]
};
const chart = echarts.init(document.getElementById('c'), null, {renderer:'canvas', width:1695, height:1124});
chart.setOption(option);
</script></body></html>
